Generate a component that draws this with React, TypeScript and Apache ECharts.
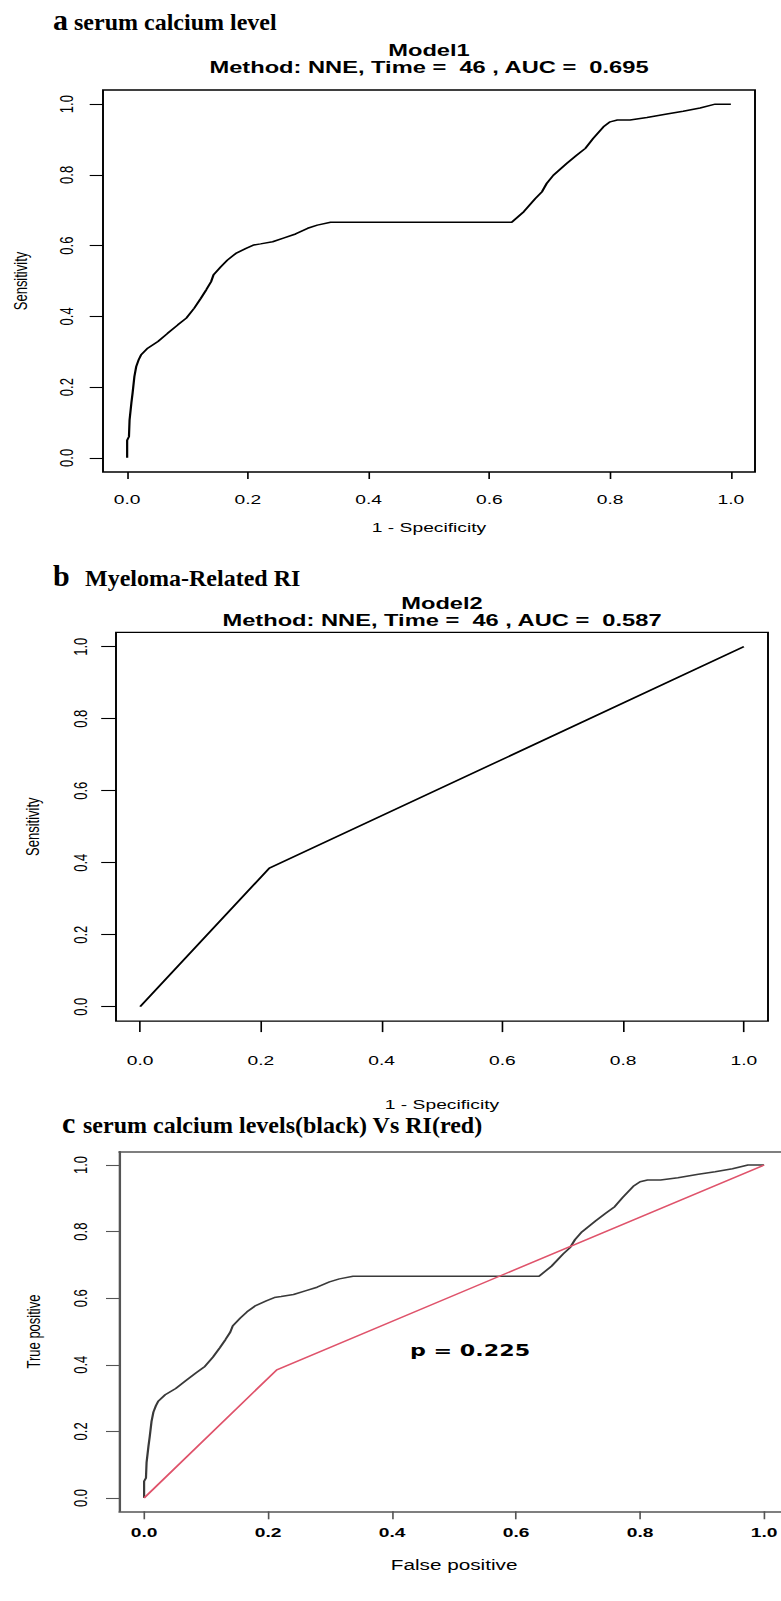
import React, { useEffect, useRef } from "react";
import * as echarts from "echarts";

// Horizontal stretch of the original figure (its R plots were widened when the panels were assembled)
const SX = 1.48;
const W = 781 / SX;
const H = 1601;

const TICKS = [0, 0.2, 0.4, 0.6, 0.8, 1.0];

// Serum calcium level ROC (1 - specificity, sensitivity)
const CAL_FPR = [0, 0, 0.003, 0.004, 0.007, 0.009, 0.012, 0.015, 0.019, 0.023, 0.034, 0.051, 0.067, 0.084, 0.098, 0.111, 0.122, 0.131, 0.139, 0.143, 0.155, 0.166, 0.18, 0.197, 0.21, 0.221, 0.241, 0.26, 0.279, 0.299, 0.315, 0.337, 0.637, 0.657, 0.676, 0.687, 0.695, 0.706, 0.728, 0.745, 0.759, 0.772, 0.789, 0.8, 0.812, 0.833, 0.861, 0.894, 0.921, 0.949, 0.974, 1.0];
const CAL_TPR = [0, 0.05, 0.06, 0.107, 0.155, 0.183, 0.23, 0.258, 0.277, 0.291, 0.31, 0.329, 0.352, 0.376, 0.395, 0.423, 0.451, 0.475, 0.498, 0.517, 0.54, 0.559, 0.578, 0.592, 0.602, 0.605, 0.611, 0.622, 0.633, 0.649, 0.658, 0.666, 0.666, 0.696, 0.733, 0.752, 0.776, 0.799, 0.832, 0.856, 0.875, 0.903, 0.936, 0.95, 0.955, 0.955, 0.962, 0.972, 0.98, 0.989, 1.0, 1.0];

// Myeloma-related RI ROC
const RI_FPR = [0, 0.214, 1.0];
const RI_TPR = [0, 0.385, 1.0];

const TITLE_A = "a";
const TITLE_A2 = "serum calcium level";
const TITLE_B = "b";
const TITLE_B2 = "Myeloma-Related RI";
const TITLE_C = "c";
const TITLE_C2 = "serum calcium levels(black) Vs RI(red)";
const MAIN_A = ["Model1", "Method: NNE, Time =  46 , AUC =  0.695"];
const MAIN_B = ["Model2", "Method: NNE, Time =  46 , AUC =  0.587"];
const P_TEXT = "p = 0.225";

const r = (x: number) => x / SX;
const pairs = (xs: number[], ys: number[]) => xs.map((x, i) => [x, ys[i]]);

const SANS = "Liberation Sans";
const SERIF = "Liberation Serif";
const GREY = "#555";

type AxisOpt = {
  grid: number;
  name: string;
  margin: number;
  nameGap: number;
  tickLen: number;
  color: string;
  bold?: boolean;
  nameSize?: number;
  line?: boolean;
};

function xAxis(o: AxisOpt) {
  return {
    type: "value",
    gridIndex: o.grid,
    min: -0.04,
    max: 1.04,
    position: "bottom",
    axisLine: { show: !!o.line, onZero: false, lineStyle: { color: o.color, width: 1.6 } },
    splitLine: { show: false },
    axisTick: { show: true, customValues: TICKS, length: o.tickLen, lineStyle: { color: o.color, width: 1.1 } },
    axisLabel: {
      customValues: TICKS,
      formatter: (v: number) => v.toFixed(1),
      margin: o.margin,
      fontSize: 13,
      lineHeight: 13,
      fontFamily: SANS,
      fontWeight: o.bold ? "bold" : "normal",
      color: "#000",
    },
    name: o.name,
    nameLocation: "middle",
    nameGap: o.nameGap,
    nameTextStyle: { fontSize: o.nameSize || 13, lineHeight: o.nameSize || 13, fontFamily: SANS, color: "#000" },
  };
}

function yAxis(o: AxisOpt) {
  return {
    type: "value",
    gridIndex: o.grid,
    min: -0.04,
    max: 1.04,
    position: "left",
    axisLine: { show: !!o.line, onZero: false, lineStyle: { color: o.color, width: 1.6 } },
    splitLine: { show: false },
    axisTick: { show: true, customValues: TICKS, length: o.tickLen, lineStyle: { color: o.color, width: 1.1 } },
    axisLabel: {
      customValues: TICKS,
      formatter: (v: number) => v.toFixed(1),
      rotate: 90,
      margin: o.margin,
      fontSize: 13,
      lineHeight: 13,
      fontFamily: SANS,
      fontWeight: o.bold ? "bold" : "normal",
      color: "#000",
    },
    name: o.name,
    nameLocation: "middle",
    nameGap: o.nameGap,
    nameTextStyle: { fontSize: o.nameSize || 13, lineHeight: o.nameSize || 13, fontFamily: SANS, color: "#000" },
  };
}

function panelLabel(letter: string, rest: string, xL: number, xT: number, y: number) {
  return [
    {
      type: "text",
      x: r(xL),
      y: y - 2,
      scaleX: 1 / SX,
      style: { text: letter, fontSize: 30, fontWeight: "bold", fontFamily: SERIF, fill: "#000", textAlign: "left", textVerticalAlign: "middle", verticalAlign: "middle" },
    },
    {
      type: "text",
      x: r(xT),
      y,
      scaleX: 1 / SX,
      style: { text: rest, fontSize: 24, fontWeight: "bold", fontFamily: SERIF, fill: "#000", textAlign: "left", textVerticalAlign: "middle", verticalAlign: "middle" },
    },
  ];
}

function mainTitle(lines: string[], cx: number, y1: number, y2: number) {
  return lines.map((t, i) => ({
    type: "text",
    x: r(cx),
    y: i === 0 ? y1 : y2,
    style: { text: t, fontSize: 16, fontWeight: "bold", fontFamily: SANS, fill: "#000", textAlign: "center", align: "center", textVerticalAlign: "middle", verticalAlign: "middle" },
  }));
}

export default function App() {
  const ref = useRef<HTMLDivElement>(null);
  useEffect(() => {
    if (!ref.current) return;
    const chart = echarts.init(ref.current, null, { renderer: "svg", width: W, height: H });
    const option = {
      animation: false,
      backgroundColor: "#fff",
      grid: [
        { left: r(103), top: 90, width: r(652), height: 382, show: true, borderColor: "#000", borderWidth: 1.3, backgroundColor: "transparent", containLabel: false, outerBoundsMode: "none" },
        { left: r(116), top: 632.3, width: r(652), height: 388.8, show: true, borderColor: "#000", borderWidth: 1.3, backgroundColor: "transparent", containLabel: false, outerBoundsMode: "none" },
        // panel c runs past the right edge of the figure: its frame is drawn by the axis lines (left, bottom, top)
        { left: r(119.3), top: 1151.7, width: r(669.6), height: 359.6, show: false, containLabel: false, outerBoundsMode: "none" },
      ],
      xAxis: [
        xAxis({ grid: 0, name: "1 - Specificity", margin: 21, nameGap: 48.5, tickLen: 7, color: "#000" }),
        xAxis({ grid: 1, name: "1 - Specificity", margin: 33, nameGap: 77, tickLen: 11, color: "#000" }),
        xAxis({ grid: 2, name: "False positive", margin: 14, nameGap: 46.5, tickLen: 8, color: GREY, bold: true, nameSize: 14, line: true }),
        {
          type: "value",
          gridIndex: 2,
          min: -0.04,
          max: 1.04,
          position: "top",
          axisLine: { show: true, onZero: false, lineStyle: { color: GREY, width: 1.6 } },
          axisTick: { show: false },
          axisLabel: { show: false },
          splitLine: { show: false },
        },
      ],
      yAxis: [
        yAxis({ grid: 0, name: "Sensitivity", margin: 18.5, nameGap: 49.5, tickLen: 9, color: "#000" }),
        yAxis({ grid: 1, name: "Sensitivity", margin: 18, nameGap: 50, tickLen: 10, color: "#000" }),
        yAxis({ grid: 2, name: "True positive", margin: 20, nameGap: 51.5, tickLen: 9, color: GREY, line: true }),
      ],
      series: [
        { type: "line", xAxisIndex: 0, yAxisIndex: 0, data: pairs(CAL_FPR, CAL_TPR), showSymbol: false, symbol: "none", silent: true, lineStyle: { color: "#000", width: 1.5 } },
        { type: "line", xAxisIndex: 1, yAxisIndex: 1, data: pairs(RI_FPR, RI_TPR), showSymbol: false, symbol: "none", silent: true, lineStyle: { color: "#000", width: 1.5 } },
        { type: "line", xAxisIndex: 2, yAxisIndex: 2, data: pairs(CAL_FPR, CAL_TPR), showSymbol: false, symbol: "none", silent: true, lineStyle: { color: "#3a3a3a", width: 1.5 } },
        { type: "line", xAxisIndex: 2, yAxisIndex: 2, data: pairs(RI_FPR, RI_TPR), showSymbol: false, symbol: "none", silent: true, lineStyle: { color: "#DF536B", width: 1.4 } },
      ],
      graphic: [
        ...panelLabel(TITLE_A, TITLE_A2, 53, 74, 22),
        ...mainTitle(MAIN_A, 429, 50, 67),
        ...panelLabel(TITLE_B, TITLE_B2, 53, 85, 578),
        ...mainTitle(MAIN_B, 442, 603, 620),
        ...panelLabel(TITLE_C, TITLE_C2, 62, 83, 1125),
        {
          type: "text",
          x: r(470),
          y: 1350,
          style: { text: P_TEXT, fontSize: 15, fontWeight: "bold", fontFamily: "DejaVu Sans", fill: "#000", textAlign: "center", align: "center", textVerticalAlign: "middle", verticalAlign: "middle" },
        },
      ],
    };
    chart.setOption(option as any);
    return () => chart.dispose();
  }, []);
  return (
    <div
      ref={ref}
      style={{
        position: "absolute",
        left: 0,
        top: 0,
        width: W,
        height: H,
        transform: `scaleX(${SX})`,
        transformOrigin: "0 0",
        background: "#fff",
      }}
    />
  );
}
